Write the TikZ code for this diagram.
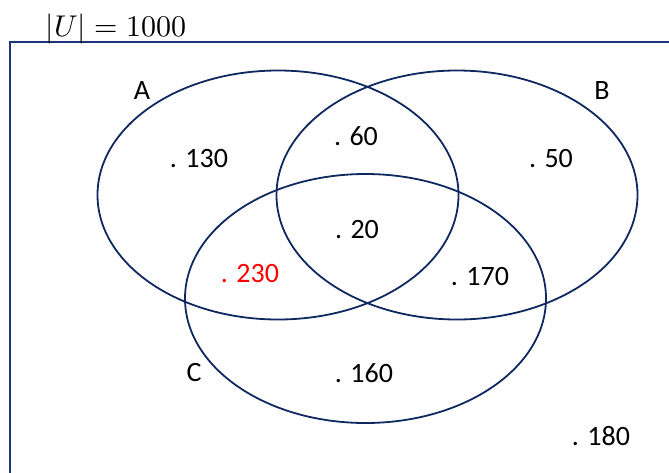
\documentclass[tikz,border=0pt]{standalone}
\usepackage{fontspec}
\usepackage{unicode-math}
\setmainfont{Carlito}
\setmathfont{Latin Modern Math}
\definecolor{venn}{RGB}{16,40,96}
\definecolor{frame}{RGB}{28,52,120}
\definecolor{hot}{RGB}{255,0,0}
\begin{document}
\begin{tikzpicture}[x=1pt,y=-1pt,
  lbl/.style={anchor=base,inner sep=0pt,font=\fontsize{28}{32}\selectfont},
  set/.style={draw=venn,line width=1.8pt}]
\useasboundingbox (0,0) rectangle (669,472);
% universe frame (extends past the right and bottom edges)
\draw[frame,line width=2pt] (10,480) -- (10,42) -- (680,42);
% sets
\draw[set] (278,195) ellipse [x radius=180.5,y radius=124.5];
\draw[set] (457,195) ellipse [x radius=180.5,y radius=124.5];
\draw[set] (365.5,298.5) ellipse [x radius=180.5,y radius=124.5];
% labels
\node[anchor=base,inner sep=0pt,font=\fontsize{30}{34}\selectfont] (u) at (116,36) {$|U| = 1000$};
\node[lbl] (la) at (142,99) {A};
\node[lbl] (lb) at (602,99) {B};
\node[lbl] (lc) at (194,381) {C};
\node[lbl] (n130) at (199,167) {. 130};
\node[lbl] (n60) at (356,145) {. 60};
\node[lbl] (n50) at (551,167) {. 50};
\node[lbl] (n20) at (357,238) {. 20};
\node[lbl,text=hot] (n230) at (250,282) {. 230};
\node[lbl] (n170) at (480,285) {. 170};
\node[lbl] (n160) at (364,382) {. 160};
\node[lbl] (n180) at (601,445) {. 180};
\end{tikzpicture}
\end{document}
